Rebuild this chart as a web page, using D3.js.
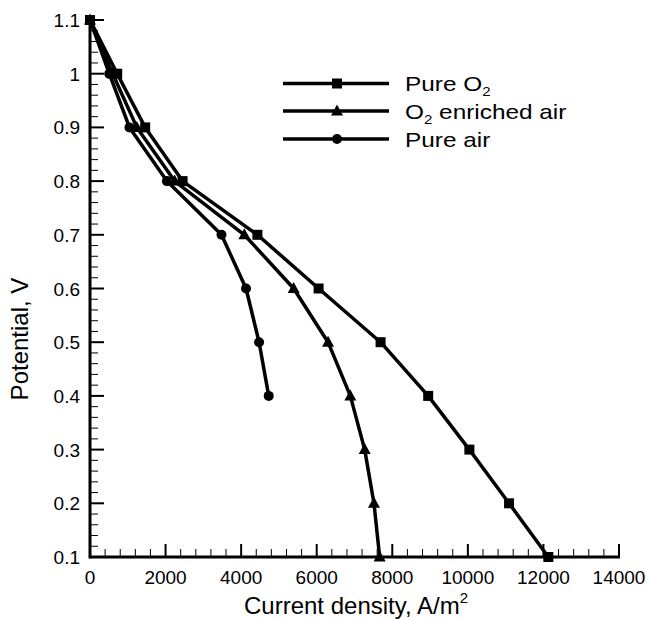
<!DOCTYPE html>
<html>
<head>
<meta charset="utf-8">
<script src="https://cdn.jsdelivr.net/npm/d3@7"></script>
<style>
  body { margin: 0; background: #fff; }
  svg { font-family: "Liberation Sans", Arial, Helvetica, sans-serif; }
</style>
</head>
<body>
<svg width="649" height="619"></svg>
<script>
const potential = [1.1, 1.0, 0.9, 0.8, 0.7, 0.6, 0.5, 0.4, 0.3, 0.2, 0.1];
const pureO2 = [0, 720, 1460, 2450, 4430, 6050, 7690, 8950, 10040, 11090, 12130];
const enrichedAir = [0, 600, 1240, 2240, 4085, 5390, 6300, 6890, 7270, 7515, 7666];
const pureAir = [0, 510, 1045, 2035, 3480, 4130, 4475, 4730];

const xTicks = [0, 2000, 4000, 6000, 8000, 10000, 12000, 14000];
const yTicks = [0.1, 0.2, 0.3, 0.4, 0.5, 0.6, 0.7, 0.8, 0.9, 1.0, 1.1];

const seriesNames = ["Pure O", " enriched air", "Pure air"];
const seriesValues = [pureO2, enrichedAir, pureAir];
const seriesMarkers = ["square", "triangle", "circle"];

const svg = d3.select("svg");

const x = d3.scaleLinear().domain([0, 14000]).range([90, 619]);
const y = d3.scaleLinear().domain([0.1, 1.1]).range([557, 20]);

// minor ticks
const xMinor = d3.range(0, 14001, 400).filter(v => v % 2000 !== 0);
const yMinor = d3.range(10, 111, 2).map(v => v / 100).filter(v => Math.round(v * 100) % 10 !== 0);

svg.append("g").selectAll("line")
  .data(xMinor)
  .enter().append("line")
  .attr("x1", d => x(d)).attr("x2", d => x(d))
  .attr("y1", y(0.1)).attr("y2", y(0.1) - 8)
  .attr("stroke", "#000").attr("stroke-width", 1);

svg.append("g").selectAll("line")
  .data(yMinor)
  .enter().append("line")
  .attr("x1", x(0)).attr("x2", x(0) + 8)
  .attr("y1", d => y(d)).attr("y2", d => y(d))
  .attr("stroke", "#000").attr("stroke-width", 1);

// major ticks
svg.append("g").selectAll("line")
  .data(xTicks)
  .enter().append("line")
  .attr("x1", d => x(d)).attr("x2", d => x(d))
  .attr("y1", y(0.1)).attr("y2", y(0.1) - 13)
  .attr("stroke", "#000").attr("stroke-width", 2);

svg.append("g").selectAll("line")
  .data(yTicks)
  .enter().append("line")
  .attr("x1", x(0)).attr("x2", x(0) + 14)
  .attr("y1", d => y(d)).attr("y2", d => y(d))
  .attr("stroke", "#000").attr("stroke-width", 2);

// axis lines
svg.append("line")
  .attr("x1", x(0)).attr("x2", x(14000) + 1)
  .attr("y1", y(0.1)).attr("y2", y(0.1))
  .attr("stroke", "#000").attr("stroke-width", 3);
svg.append("line")
  .attr("x1", x(0)).attr("x2", x(0))
  .attr("y1", y(1.1) - 1).attr("y2", y(0.1) + 1.5)
  .attr("stroke", "#000").attr("stroke-width", 3);

// tick labels
svg.append("g").selectAll("text")
  .data(xTicks)
  .enter().append("text")
  .attr("x", d => x(d))
  .attr("y", 584)
  .attr("text-anchor", "middle")
  .attr("font-size", 19)
  .text(d => d);

svg.append("g").selectAll("text")
  .data(yTicks)
  .enter().append("text")
  .attr("x", 80)
  .attr("y", d => y(d) + 7)
  .attr("text-anchor", "end")
  .attr("font-size", 19)
  .text(d => d3.format("")(+d.toFixed(1)));

// axis titles
const xt = svg.append("text")
  .attr("x", 356)
  .attr("y", 614)
  .attr("text-anchor", "middle")
  .attr("font-size", 24);
xt.append("tspan").text("Current density, A/m");
xt.append("tspan").attr("font-size", 15).attr("dy", -11).text("2");

svg.append("text")
  .attr("transform", "translate(28,339) rotate(-90)")
  .attr("text-anchor", "middle")
  .attr("font-size", 24)
  .text("Potential, V");

// markers
function drawMarker(g, type, cx, cy) {
  if (type === "square") {
    g.append("rect")
      .attr("x", cx - 5).attr("y", cy - 5)
      .attr("width", 10).attr("height", 10)
      .attr("fill", "#000");
  } else if (type === "triangle") {
    g.append("path")
      .attr("d", `M${cx},${cy - 6.5}L${cx + 6},${cy + 4.5}L${cx - 6},${cy + 4.5}Z`)
      .attr("fill", "#000");
  } else {
    g.append("circle")
      .attr("cx", cx).attr("cy", cy).attr("r", 5)
      .attr("fill", "#000");
  }
}

const line = d3.line()
  .x(d => x(d[0]))
  .y(d => y(d[1]));

seriesValues.forEach((vals, i) => {
  const pts = vals.map((v, j) => [v, potential[j]]);
  const g = svg.append("g");
  g.append("path")
    .datum(pts)
    .attr("d", line)
    .attr("fill", "none")
    .attr("stroke", "#000")
    .attr("stroke-width", 3.5)
    .attr("stroke-linejoin", "round");
  pts.forEach(p => drawMarker(g, seriesMarkers[i], x(p[0]), y(p[1])));
});

// legend
const legendY = [83.5, 111, 139];
seriesNames.forEach((name, i) => {
  const g = svg.append("g");
  g.append("line")
    .attr("x1", 283).attr("x2", 389)
    .attr("y1", legendY[i]).attr("y2", legendY[i])
    .attr("stroke", "#000").attr("stroke-width", 3.5);
  drawMarker(g, seriesMarkers[i], 337, legendY[i]);
  const t = g.append("text")
    .attr("transform", `translate(405,${legendY[i] + 7.5}) scale(1.16,1)`)
    .attr("font-size", 21);
  if (i === 0) {
    t.append("tspan").text(name);
    t.append("tspan").attr("font-size", 13).attr("dy", 5).text("2");
  } else if (i === 1) {
    t.append("tspan").text("O");
    t.append("tspan").attr("font-size", 13).attr("dy", 5).text("2");
    t.append("tspan").attr("dy", -5).text(name);
  } else {
    t.text(name);
  }
});
</script>
</body>
</html>
